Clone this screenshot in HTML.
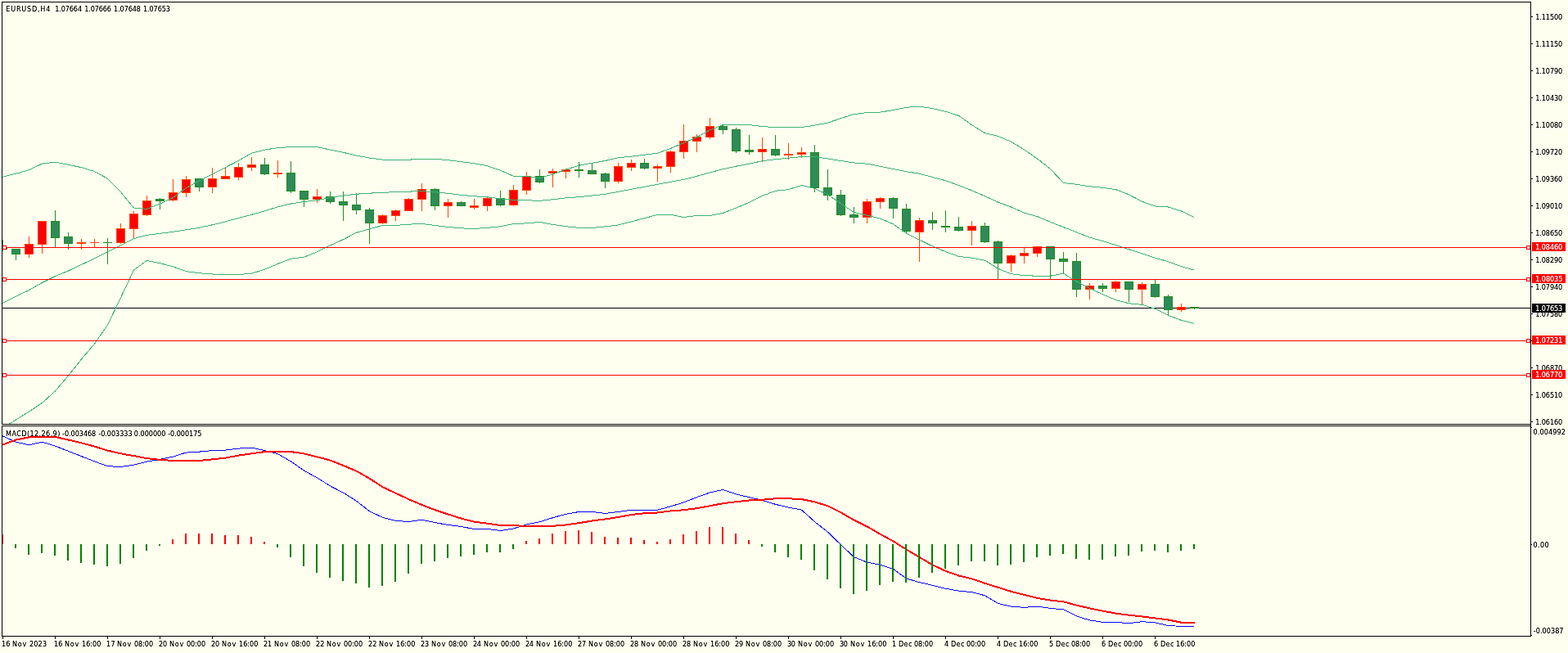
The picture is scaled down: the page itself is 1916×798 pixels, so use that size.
<!DOCTYPE html>
<html lang="en"><head><meta charset="utf-8"><title>EURUSD,H4</title>
<style>
html,body{margin:0;padding:0;background:#FFFFF0;overflow:hidden}
body{width:1916px;height:798px;position:relative}
svg{position:absolute;left:0;top:0;display:block}
text{font-family:"DejaVu Sans Condensed","Liberation Sans",sans-serif;font-size:9px;fill:#000}
.w{fill:#fff}
</style></head><body>
<svg width="1916" height="798" viewBox="0 0 1916 798">
<rect x="0" y="0" width="1916" height="798" fill="#FFFFF0"/>
<defs><filter id="dk" filterUnits="userSpaceOnUse" x="0" y="0" width="1916" height="798" color-interpolation-filters="sRGB"><feComponentTransfer><feFuncA type="linear" slope="1.25"/></feComponentTransfer></filter><clipPath id="cl"><rect x="3" y="3" width="1456" height="774"/></clipPath><clipPath id="cr"><rect x="3" y="521" width="1457" height="256"/></clipPath><clipPath id="cm"><rect x="3" y="3" width="1867" height="515"/></clipPath><clipPath id="ci"><rect x="3" y="521" width="1867" height="256"/></clipPath></defs>
<g shape-rendering="crispEdges">
<rect x="2" y="2" width="1869" height="1" fill="#000"/>
<rect x="2" y="2" width="1" height="517" fill="#000"/>
<rect x="2" y="518" width="1869" height="1" fill="#000"/>
<rect x="2" y="520" width="1869" height="1" fill="#000"/>
<rect x="2" y="520" width="1" height="258" fill="#000"/>
<rect x="2" y="777" width="1869" height="1" fill="#000"/>
<rect x="1870" y="2" width="1" height="776" fill="#000"/>
<rect x="1871" y="20" width="2" height="1" fill="#000"/>
<rect x="1871" y="53" width="2" height="1" fill="#000"/>
<rect x="1871" y="86" width="2" height="1" fill="#000"/>
<rect x="1871" y="119" width="2" height="1" fill="#000"/>
<rect x="1871" y="152" width="2" height="1" fill="#000"/>
<rect x="1871" y="185" width="2" height="1" fill="#000"/>
<rect x="1871" y="218" width="2" height="1" fill="#000"/>
<rect x="1871" y="251" width="2" height="1" fill="#000"/>
<rect x="1871" y="284" width="2" height="1" fill="#000"/>
<rect x="1871" y="317" width="2" height="1" fill="#000"/>
<rect x="1871" y="350" width="2" height="1" fill="#000"/>
<rect x="1871" y="383" width="2" height="1" fill="#000"/>
<rect x="1871" y="416" width="2" height="1" fill="#000"/>
<rect x="1871" y="449" width="2" height="1" fill="#000"/>
<rect x="1871" y="482" width="2" height="1" fill="#000"/>
<rect x="1871" y="515" width="2" height="1" fill="#000"/>
<rect x="1871" y="522" width="1" height="1" fill="#000"/>
<rect x="1871" y="665" width="1" height="1" fill="#000"/>
<rect x="1871" y="776" width="1" height="1" fill="#000"/>
<rect x="3" y="778" width="1" height="3" fill="#000"/>
<rect x="67" y="778" width="1" height="3" fill="#000"/>
<rect x="131" y="778" width="1" height="3" fill="#000"/>
<rect x="195" y="778" width="1" height="3" fill="#000"/>
<rect x="259" y="778" width="1" height="3" fill="#000"/>
<rect x="323" y="778" width="1" height="3" fill="#000"/>
<rect x="387" y="778" width="1" height="3" fill="#000"/>
<rect x="451" y="778" width="1" height="3" fill="#000"/>
<rect x="515" y="778" width="1" height="3" fill="#000"/>
<rect x="579" y="778" width="1" height="3" fill="#000"/>
<rect x="643" y="778" width="1" height="3" fill="#000"/>
<rect x="707" y="778" width="1" height="3" fill="#000"/>
<rect x="771" y="778" width="1" height="3" fill="#000"/>
<rect x="835" y="778" width="1" height="3" fill="#000"/>
<rect x="899" y="778" width="1" height="3" fill="#000"/>
<rect x="963" y="778" width="1" height="3" fill="#000"/>
<rect x="1027" y="778" width="1" height="3" fill="#000"/>
<rect x="1091" y="778" width="1" height="3" fill="#000"/>
<rect x="1155" y="778" width="1" height="3" fill="#000"/>
<rect x="1219" y="778" width="1" height="3" fill="#000"/>
<rect x="1283" y="778" width="1" height="3" fill="#000"/>
<rect x="1347" y="778" width="1" height="3" fill="#000"/>
<rect x="1411" y="778" width="1" height="3" fill="#000"/>
</g>
<g shape-rendering="crispEdges" clip-path="url(#cm)">
<rect x="3" y="376" width="1867" height="1" fill="#000"/>
<rect x="3" y="293" width="1" height="14" fill="#228B22"/>
<rect x="-2" y="303" width="11" height="2" fill="#228B22"/>
<rect x="19" y="304" width="1" height="14" fill="#228B22"/>
<rect x="14" y="304" width="11" height="7" fill="#228B22"/>
<rect x="15" y="305" width="9" height="5" fill="#2E8B57"/>
<rect x="35" y="289" width="1" height="26" fill="#FF4500"/>
<rect x="30" y="298" width="11" height="13" fill="#FF4500"/>
<rect x="31" y="299" width="9" height="11" fill="#FF0000"/>
<rect x="51" y="270" width="1" height="40" fill="#FF4500"/>
<rect x="46" y="270" width="11" height="29" fill="#FF4500"/>
<rect x="47" y="271" width="9" height="27" fill="#FF0000"/>
<rect x="67" y="257" width="1" height="45" fill="#228B22"/>
<rect x="62" y="270" width="11" height="21" fill="#228B22"/>
<rect x="63" y="271" width="9" height="19" fill="#2E8B57"/>
<rect x="83" y="284" width="1" height="21" fill="#228B22"/>
<rect x="78" y="289" width="11" height="9" fill="#228B22"/>
<rect x="79" y="290" width="9" height="7" fill="#2E8B57"/>
<rect x="99" y="292" width="1" height="13" fill="#FF4500"/>
<rect x="94" y="296" width="11" height="2" fill="#FF4500"/>
<rect x="115" y="292" width="1" height="10" fill="#FF4500"/>
<rect x="110" y="296" width="11" height="1" fill="#FF4500"/>
<rect x="131" y="291" width="1" height="32" fill="#228B22"/>
<rect x="126" y="296" width="11" height="1" fill="#228B22"/>
<rect x="147" y="273" width="1" height="25" fill="#FF4500"/>
<rect x="142" y="279" width="11" height="18" fill="#FF4500"/>
<rect x="143" y="280" width="9" height="16" fill="#FF0000"/>
<rect x="163" y="258" width="1" height="34" fill="#FF4500"/>
<rect x="158" y="261" width="11" height="19" fill="#FF4500"/>
<rect x="159" y="262" width="9" height="17" fill="#FF0000"/>
<rect x="179" y="239" width="1" height="25" fill="#FF4500"/>
<rect x="174" y="245" width="11" height="18" fill="#FF4500"/>
<rect x="175" y="246" width="9" height="16" fill="#FF0000"/>
<rect x="195" y="242" width="1" height="14" fill="#228B22"/>
<rect x="190" y="243" width="11" height="3" fill="#228B22"/>
<rect x="191" y="244" width="9" height="1" fill="#2E8B57"/>
<rect x="211" y="219" width="1" height="27" fill="#FF4500"/>
<rect x="206" y="235" width="11" height="10" fill="#FF4500"/>
<rect x="207" y="236" width="9" height="8" fill="#FF0000"/>
<rect x="227" y="215" width="1" height="26" fill="#FF4500"/>
<rect x="222" y="219" width="11" height="17" fill="#FF4500"/>
<rect x="223" y="220" width="9" height="15" fill="#FF0000"/>
<rect x="243" y="218" width="1" height="16" fill="#228B22"/>
<rect x="238" y="218" width="11" height="11" fill="#228B22"/>
<rect x="239" y="219" width="9" height="9" fill="#2E8B57"/>
<rect x="259" y="205" width="1" height="31" fill="#FF4500"/>
<rect x="254" y="218" width="11" height="11" fill="#FF4500"/>
<rect x="255" y="219" width="9" height="9" fill="#FF0000"/>
<rect x="275" y="204" width="1" height="15" fill="#FF4500"/>
<rect x="270" y="215" width="11" height="4" fill="#FF4500"/>
<rect x="271" y="216" width="9" height="2" fill="#FF0000"/>
<rect x="291" y="199" width="1" height="21" fill="#FF4500"/>
<rect x="286" y="204" width="11" height="13" fill="#FF4500"/>
<rect x="287" y="205" width="9" height="11" fill="#FF0000"/>
<rect x="307" y="192" width="1" height="17" fill="#FF4500"/>
<rect x="302" y="201" width="11" height="4" fill="#FF4500"/>
<rect x="303" y="202" width="9" height="2" fill="#FF0000"/>
<rect x="323" y="193" width="1" height="21" fill="#228B22"/>
<rect x="318" y="201" width="11" height="12" fill="#228B22"/>
<rect x="319" y="202" width="9" height="10" fill="#2E8B57"/>
<rect x="339" y="196" width="1" height="21" fill="#FF4500"/>
<rect x="334" y="211" width="11" height="2" fill="#FF4500"/>
<rect x="355" y="197" width="1" height="39" fill="#228B22"/>
<rect x="350" y="211" width="11" height="23" fill="#228B22"/>
<rect x="351" y="212" width="9" height="21" fill="#2E8B57"/>
<rect x="371" y="233" width="1" height="20" fill="#228B22"/>
<rect x="366" y="233" width="11" height="11" fill="#228B22"/>
<rect x="367" y="234" width="9" height="9" fill="#2E8B57"/>
<rect x="387" y="231" width="1" height="17" fill="#FF4500"/>
<rect x="382" y="240" width="11" height="4" fill="#FF4500"/>
<rect x="383" y="241" width="9" height="2" fill="#FF0000"/>
<rect x="403" y="234" width="1" height="15" fill="#228B22"/>
<rect x="398" y="240" width="11" height="7" fill="#228B22"/>
<rect x="399" y="241" width="9" height="5" fill="#2E8B57"/>
<rect x="419" y="234" width="1" height="36" fill="#228B22"/>
<rect x="414" y="246" width="11" height="5" fill="#228B22"/>
<rect x="415" y="247" width="9" height="3" fill="#2E8B57"/>
<rect x="435" y="236" width="1" height="26" fill="#228B22"/>
<rect x="430" y="250" width="11" height="7" fill="#228B22"/>
<rect x="431" y="251" width="9" height="5" fill="#2E8B57"/>
<rect x="451" y="254" width="1" height="44" fill="#228B22"/>
<rect x="446" y="256" width="11" height="17" fill="#228B22"/>
<rect x="447" y="257" width="9" height="15" fill="#2E8B57"/>
<rect x="467" y="262" width="1" height="12" fill="#FF4500"/>
<rect x="462" y="263" width="11" height="10" fill="#FF4500"/>
<rect x="463" y="264" width="9" height="8" fill="#FF0000"/>
<rect x="483" y="256" width="1" height="14" fill="#FF4500"/>
<rect x="478" y="257" width="11" height="7" fill="#FF4500"/>
<rect x="479" y="258" width="9" height="5" fill="#FF0000"/>
<rect x="499" y="242" width="1" height="16" fill="#FF4500"/>
<rect x="494" y="243" width="11" height="15" fill="#FF4500"/>
<rect x="495" y="244" width="9" height="13" fill="#FF0000"/>
<rect x="515" y="224" width="1" height="34" fill="#FF4500"/>
<rect x="510" y="231" width="11" height="13" fill="#FF4500"/>
<rect x="511" y="232" width="9" height="11" fill="#FF0000"/>
<rect x="531" y="230" width="1" height="27" fill="#228B22"/>
<rect x="526" y="231" width="11" height="21" fill="#228B22"/>
<rect x="527" y="232" width="9" height="19" fill="#2E8B57"/>
<rect x="547" y="243" width="1" height="23" fill="#FF4500"/>
<rect x="542" y="247" width="11" height="5" fill="#FF4500"/>
<rect x="543" y="248" width="9" height="3" fill="#FF0000"/>
<rect x="563" y="246" width="1" height="6" fill="#228B22"/>
<rect x="558" y="247" width="11" height="5" fill="#228B22"/>
<rect x="559" y="248" width="9" height="3" fill="#2E8B57"/>
<rect x="579" y="243" width="1" height="13" fill="#FF4500"/>
<rect x="574" y="251" width="11" height="3" fill="#FF4500"/>
<rect x="575" y="252" width="9" height="1" fill="#FF0000"/>
<rect x="595" y="241" width="1" height="17" fill="#FF4500"/>
<rect x="590" y="242" width="11" height="10" fill="#FF4500"/>
<rect x="591" y="243" width="9" height="8" fill="#FF0000"/>
<rect x="611" y="233" width="1" height="19" fill="#228B22"/>
<rect x="606" y="242" width="11" height="9" fill="#228B22"/>
<rect x="607" y="243" width="9" height="7" fill="#2E8B57"/>
<rect x="627" y="226" width="1" height="26" fill="#FF4500"/>
<rect x="622" y="232" width="11" height="19" fill="#FF4500"/>
<rect x="623" y="233" width="9" height="17" fill="#FF0000"/>
<rect x="643" y="210" width="1" height="28" fill="#FF4500"/>
<rect x="638" y="215" width="11" height="18" fill="#FF4500"/>
<rect x="639" y="216" width="9" height="16" fill="#FF0000"/>
<rect x="659" y="207" width="1" height="17" fill="#228B22"/>
<rect x="654" y="215" width="11" height="8" fill="#228B22"/>
<rect x="655" y="216" width="9" height="6" fill="#2E8B57"/>
<rect x="675" y="206" width="1" height="23" fill="#FF4500"/>
<rect x="670" y="209" width="11" height="3" fill="#FF4500"/>
<rect x="671" y="210" width="9" height="1" fill="#FF0000"/>
<rect x="691" y="206" width="1" height="12" fill="#FF4500"/>
<rect x="686" y="207" width="11" height="3" fill="#FF4500"/>
<rect x="687" y="208" width="9" height="1" fill="#FF0000"/>
<rect x="707" y="198" width="1" height="19" fill="#228B22"/>
<rect x="702" y="207" width="11" height="2" fill="#228B22"/>
<rect x="723" y="200" width="1" height="13" fill="#228B22"/>
<rect x="718" y="208" width="11" height="5" fill="#228B22"/>
<rect x="719" y="209" width="9" height="3" fill="#2E8B57"/>
<rect x="739" y="211" width="1" height="19" fill="#228B22"/>
<rect x="734" y="212" width="11" height="10" fill="#228B22"/>
<rect x="735" y="213" width="9" height="8" fill="#2E8B57"/>
<rect x="755" y="199" width="1" height="25" fill="#FF4500"/>
<rect x="750" y="203" width="11" height="19" fill="#FF4500"/>
<rect x="751" y="204" width="9" height="17" fill="#FF0000"/>
<rect x="771" y="195" width="1" height="14" fill="#FF4500"/>
<rect x="766" y="199" width="11" height="6" fill="#FF4500"/>
<rect x="767" y="200" width="9" height="4" fill="#FF0000"/>
<rect x="787" y="194" width="1" height="13" fill="#228B22"/>
<rect x="782" y="199" width="11" height="7" fill="#228B22"/>
<rect x="783" y="200" width="9" height="5" fill="#2E8B57"/>
<rect x="803" y="201" width="1" height="21" fill="#FF4500"/>
<rect x="798" y="203" width="11" height="3" fill="#FF4500"/>
<rect x="799" y="204" width="9" height="1" fill="#FF0000"/>
<rect x="819" y="184" width="1" height="27" fill="#FF4500"/>
<rect x="814" y="185" width="11" height="19" fill="#FF4500"/>
<rect x="815" y="186" width="9" height="17" fill="#FF0000"/>
<rect x="835" y="152" width="1" height="42" fill="#FF4500"/>
<rect x="830" y="172" width="11" height="14" fill="#FF4500"/>
<rect x="831" y="173" width="9" height="12" fill="#FF0000"/>
<rect x="851" y="164" width="1" height="22" fill="#FF4500"/>
<rect x="846" y="167" width="11" height="6" fill="#FF4500"/>
<rect x="847" y="168" width="9" height="4" fill="#FF0000"/>
<rect x="867" y="144" width="1" height="26" fill="#FF4500"/>
<rect x="862" y="154" width="11" height="14" fill="#FF4500"/>
<rect x="863" y="155" width="9" height="12" fill="#FF0000"/>
<rect x="883" y="153" width="1" height="11" fill="#228B22"/>
<rect x="878" y="154" width="11" height="5" fill="#228B22"/>
<rect x="879" y="155" width="9" height="3" fill="#2E8B57"/>
<rect x="899" y="156" width="1" height="31" fill="#228B22"/>
<rect x="894" y="158" width="11" height="27" fill="#228B22"/>
<rect x="895" y="159" width="9" height="25" fill="#2E8B57"/>
<rect x="915" y="165" width="1" height="24" fill="#228B22"/>
<rect x="910" y="183" width="11" height="3" fill="#228B22"/>
<rect x="911" y="184" width="9" height="1" fill="#2E8B57"/>
<rect x="931" y="168" width="1" height="30" fill="#FF4500"/>
<rect x="926" y="182" width="11" height="4" fill="#FF4500"/>
<rect x="927" y="183" width="9" height="2" fill="#FF0000"/>
<rect x="947" y="165" width="1" height="26" fill="#228B22"/>
<rect x="942" y="182" width="11" height="8" fill="#228B22"/>
<rect x="943" y="183" width="9" height="6" fill="#2E8B57"/>
<rect x="963" y="175" width="1" height="20" fill="#FF4500"/>
<rect x="958" y="188" width="11" height="2" fill="#FF4500"/>
<rect x="979" y="180" width="1" height="13" fill="#FF4500"/>
<rect x="974" y="186" width="11" height="3" fill="#FF4500"/>
<rect x="975" y="187" width="9" height="1" fill="#FF0000"/>
<rect x="995" y="177" width="1" height="58" fill="#228B22"/>
<rect x="990" y="186" width="11" height="44" fill="#228B22"/>
<rect x="991" y="187" width="9" height="42" fill="#2E8B57"/>
<rect x="1011" y="207" width="1" height="38" fill="#228B22"/>
<rect x="1006" y="229" width="11" height="10" fill="#228B22"/>
<rect x="1007" y="230" width="9" height="8" fill="#2E8B57"/>
<rect x="1027" y="232" width="1" height="32" fill="#228B22"/>
<rect x="1022" y="238" width="11" height="25" fill="#228B22"/>
<rect x="1023" y="239" width="9" height="23" fill="#2E8B57"/>
<rect x="1043" y="253" width="1" height="20" fill="#228B22"/>
<rect x="1038" y="262" width="11" height="4" fill="#228B22"/>
<rect x="1039" y="263" width="9" height="2" fill="#2E8B57"/>
<rect x="1059" y="243" width="1" height="30" fill="#FF4500"/>
<rect x="1054" y="246" width="11" height="20" fill="#FF4500"/>
<rect x="1055" y="247" width="9" height="18" fill="#FF0000"/>
<rect x="1075" y="241" width="1" height="14" fill="#FF4500"/>
<rect x="1070" y="242" width="11" height="5" fill="#FF4500"/>
<rect x="1071" y="243" width="9" height="3" fill="#FF0000"/>
<rect x="1091" y="241" width="1" height="26" fill="#228B22"/>
<rect x="1086" y="242" width="11" height="13" fill="#228B22"/>
<rect x="1087" y="243" width="9" height="11" fill="#2E8B57"/>
<rect x="1107" y="249" width="1" height="36" fill="#228B22"/>
<rect x="1102" y="255" width="11" height="28" fill="#228B22"/>
<rect x="1103" y="256" width="9" height="26" fill="#2E8B57"/>
<rect x="1123" y="266" width="1" height="54" fill="#FF4500"/>
<rect x="1118" y="269" width="11" height="15" fill="#FF4500"/>
<rect x="1119" y="270" width="9" height="13" fill="#FF0000"/>
<rect x="1139" y="259" width="1" height="22" fill="#228B22"/>
<rect x="1134" y="269" width="11" height="4" fill="#228B22"/>
<rect x="1135" y="270" width="9" height="2" fill="#2E8B57"/>
<rect x="1155" y="257" width="1" height="27" fill="#228B22"/>
<rect x="1150" y="276" width="11" height="2" fill="#228B22"/>
<rect x="1171" y="265" width="1" height="18" fill="#228B22"/>
<rect x="1166" y="277" width="11" height="5" fill="#228B22"/>
<rect x="1167" y="278" width="9" height="3" fill="#2E8B57"/>
<rect x="1187" y="270" width="1" height="30" fill="#FF4500"/>
<rect x="1182" y="276" width="11" height="6" fill="#FF4500"/>
<rect x="1183" y="277" width="9" height="4" fill="#FF0000"/>
<rect x="1203" y="272" width="1" height="25" fill="#228B22"/>
<rect x="1198" y="276" width="11" height="20" fill="#228B22"/>
<rect x="1199" y="277" width="9" height="18" fill="#2E8B57"/>
<rect x="1219" y="294" width="1" height="47" fill="#228B22"/>
<rect x="1214" y="295" width="11" height="27" fill="#228B22"/>
<rect x="1215" y="296" width="9" height="25" fill="#2E8B57"/>
<rect x="1235" y="311" width="1" height="21" fill="#FF4500"/>
<rect x="1230" y="312" width="11" height="10" fill="#FF4500"/>
<rect x="1231" y="313" width="9" height="8" fill="#FF0000"/>
<rect x="1251" y="303" width="1" height="19" fill="#FF4500"/>
<rect x="1246" y="309" width="11" height="4" fill="#FF4500"/>
<rect x="1247" y="310" width="9" height="2" fill="#FF0000"/>
<rect x="1267" y="301" width="1" height="13" fill="#FF4500"/>
<rect x="1262" y="301" width="11" height="9" fill="#FF4500"/>
<rect x="1263" y="302" width="9" height="7" fill="#FF0000"/>
<rect x="1283" y="301" width="1" height="40" fill="#228B22"/>
<rect x="1278" y="301" width="11" height="16" fill="#228B22"/>
<rect x="1279" y="302" width="9" height="14" fill="#2E8B57"/>
<rect x="1299" y="308" width="1" height="26" fill="#228B22"/>
<rect x="1294" y="316" width="11" height="4" fill="#228B22"/>
<rect x="1295" y="317" width="9" height="2" fill="#2E8B57"/>
<rect x="1315" y="309" width="1" height="54" fill="#228B22"/>
<rect x="1310" y="319" width="11" height="35" fill="#228B22"/>
<rect x="1311" y="320" width="9" height="33" fill="#2E8B57"/>
<rect x="1331" y="346" width="1" height="20" fill="#FF4500"/>
<rect x="1326" y="349" width="11" height="5" fill="#FF4500"/>
<rect x="1327" y="350" width="9" height="3" fill="#FF0000"/>
<rect x="1347" y="346" width="1" height="11" fill="#228B22"/>
<rect x="1342" y="349" width="11" height="4" fill="#228B22"/>
<rect x="1343" y="350" width="9" height="2" fill="#2E8B57"/>
<rect x="1363" y="343" width="1" height="14" fill="#FF4500"/>
<rect x="1358" y="344" width="11" height="9" fill="#FF4500"/>
<rect x="1359" y="345" width="9" height="7" fill="#FF0000"/>
<rect x="1379" y="344" width="1" height="25" fill="#228B22"/>
<rect x="1374" y="344" width="11" height="10" fill="#228B22"/>
<rect x="1375" y="345" width="9" height="8" fill="#2E8B57"/>
<rect x="1395" y="345" width="1" height="27" fill="#FF4500"/>
<rect x="1390" y="347" width="11" height="7" fill="#FF4500"/>
<rect x="1391" y="348" width="9" height="5" fill="#FF0000"/>
<rect x="1411" y="342" width="1" height="22" fill="#228B22"/>
<rect x="1406" y="347" width="11" height="16" fill="#228B22"/>
<rect x="1407" y="348" width="9" height="14" fill="#2E8B57"/>
<rect x="1427" y="360" width="1" height="25" fill="#228B22"/>
<rect x="1422" y="362" width="11" height="17" fill="#228B22"/>
<rect x="1423" y="363" width="9" height="15" fill="#2E8B57"/>
<rect x="1443" y="371" width="1" height="10" fill="#FF4500"/>
<rect x="1438" y="375" width="11" height="4" fill="#FF4500"/>
<rect x="1439" y="376" width="9" height="2" fill="#FF0000"/>
<rect x="1459" y="375" width="1" height="3" fill="#228B22"/>
<rect x="1454" y="375" width="11" height="2" fill="#228B22"/>
<g clip-path="url(#cl)">
<polyline fill="none" stroke="#3CB371" stroke-width="1" stroke-linecap="square" stroke-linejoin="round" points="3.5,216.2 19.5,212.2 35.5,207.6 51.5,200.1 67.5,198.1 83.5,201.4 99.5,204.6 115.5,209.6 131.5,218.2 147.5,234.7 163.5,254.0 179.5,255.3 195.5,249.0 211.5,241.5 227.5,229.7 243.5,220.7 259.5,212.7 275.5,204.6 291.5,196.4 307.5,187.1 323.5,183.1 339.5,180.6 355.5,179.6 371.5,179.6 387.5,179.6 403.5,183.1 419.5,186.3 435.5,190.1 451.5,193.1 467.5,195.1 483.5,195.2 499.5,195.2 515.5,194.2 531.5,194.2 547.5,195.7 563.5,197.7 579.5,199.7 595.5,202.7 611.5,208.2 627.5,215.3 643.5,215.3 659.5,217.8 675.5,212.8 691.5,207.2 707.5,202.2 723.5,199.2 739.5,196.5 755.5,192.7 771.5,191.2 787.5,189.2 803.5,187.2 819.5,181.4 835.5,174.7 851.5,167.6 867.5,158.9 883.5,152.6 899.5,152.6 915.5,152.6 931.5,154.6 947.5,155.6 963.5,155.6 979.5,155.6 995.5,153.1 1011.5,150.1 1027.5,144.6 1043.5,139.6 1059.5,137.6 1075.5,137.1 1091.5,134.6 1107.5,131.3 1123.5,130.1 1139.5,132.6 1155.5,136.3 1171.5,141.3 1187.5,152.6 1203.5,162.6 1219.5,166.4 1235.5,173.2 1251.5,182.7 1267.5,194.0 1283.5,206.5 1299.5,223.5 1315.5,225.3 1331.5,227.8 1347.5,229.3 1363.5,231.6 1379.5,237.8 1395.5,246.3 1411.5,252.0 1427.5,253.0 1443.5,258.0 1459.5,265.6"/>
<polyline fill="none" stroke="#3CB371" stroke-width="1" stroke-linecap="square" stroke-linejoin="round" points="3.5,370.1 19.5,362.1 35.5,354.6 51.5,345.5 67.5,337.5 83.5,331.0 99.5,323.4 115.5,315.9 131.5,307.9 147.5,299.9 163.5,291.6 179.5,287.3 195.5,285.3 211.5,283.3 227.5,280.8 243.5,278.3 259.5,274.8 275.5,270.8 291.5,266.5 307.5,262.3 323.5,257.8 339.5,252.8 355.5,249.0 371.5,246.5 387.5,244.7 403.5,241.5 419.5,239.0 435.5,237.2 451.5,236.2 467.5,235.2 483.5,234.8 499.5,234.1 515.5,233.6 531.5,234.8 547.5,236.3 563.5,238.3 579.5,239.8 595.5,240.8 611.5,242.8 627.5,244.3 643.5,244.8 659.5,245.3 675.5,243.8 691.5,241.8 707.5,240.7 723.5,239.1 739.5,237.3 755.5,234.3 771.5,231.3 787.5,228.3 803.5,225.3 819.5,222.3 835.5,219.3 851.5,215.3 867.5,210.8 883.5,206.7 899.5,203.2 915.5,200.2 931.5,196.7 947.5,194.7 963.5,193.2 979.5,191.5 995.5,191.5 1011.5,194.0 1027.5,196.5 1043.5,199.0 1059.5,200.2 1075.5,203.2 1091.5,206.5 1107.5,209.7 1123.5,212.3 1139.5,216.5 1155.5,220.8 1171.5,226.5 1187.5,232.8 1203.5,239.8 1219.5,247.0 1235.5,253.0 1251.5,260.1 1267.5,264.6 1283.5,271.3 1299.5,277.6 1315.5,283.9 1331.5,290.1 1347.5,294.6 1363.5,299.6 1379.5,304.7 1395.5,309.7 1411.5,315.2 1427.5,319.7 1443.5,325.7 1459.5,330.2"/>
<polyline fill="none" stroke="#3CB371" stroke-width="1" stroke-linecap="square" stroke-linejoin="round" points="3.5,523.0 19.5,513.0 35.5,502.9 51.5,492.4 67.5,477.9 83.5,459.1 99.5,439.0 115.5,420.2 131.5,397.2 147.5,363.8 163.5,329.9 179.5,318.4 195.5,321.7 211.5,325.9 227.5,331.7 243.5,333.7 259.5,335.0 275.5,335.5 291.5,335.5 307.5,334.2 323.5,329.2 339.5,322.4 355.5,316.2 371.5,314.2 387.5,307.9 403.5,299.9 419.5,292.6 435.5,284.3 451.5,279.8 467.5,275.3 483.5,275.4 499.5,274.2 515.5,273.4 531.5,275.4 547.5,277.4 563.5,278.9 579.5,279.4 595.5,278.4 611.5,276.7 627.5,273.4 643.5,272.9 659.5,271.4 675.5,274.4 691.5,276.7 707.5,278.4 723.5,278.4 739.5,276.9 755.5,274.9 771.5,270.9 787.5,266.6 803.5,262.4 819.5,262.4 835.5,265.4 851.5,263.4 867.5,263.4 883.5,260.4 899.5,254.1 915.5,247.3 931.5,239.3 947.5,233.3 963.5,231.6 979.5,226.5 995.5,230.3 1011.5,237.8 1027.5,248.8 1043.5,259.5 1059.5,263.1 1075.5,267.1 1091.5,273.8 1107.5,285.1 1123.5,293.1 1139.5,300.9 1155.5,307.7 1171.5,313.4 1187.5,315.2 1203.5,318.2 1219.5,328.2 1235.5,334.7 1251.5,336.7 1267.5,337.2 1283.5,337.2 1299.5,334.2 1315.5,344.0 1331.5,352.3 1347.5,359.8 1363.5,366.6 1379.5,370.8 1395.5,372.3 1411.5,377.3 1427.5,385.4 1443.5,391.4 1459.5,395.4"/>
</g>
<rect x="3" y="302" width="1867" height="1" fill="#FF0000"/>
<rect x="3" y="300" width="5" height="5" fill="#FF0000"/>
<rect x="4" y="301" width="3" height="3" fill="#fff"/>
<rect x="1865" y="300" width="5" height="5" fill="#FF0000"/>
<rect x="1866" y="301" width="3" height="3" fill="#fff"/>
<rect x="3" y="341" width="1867" height="1" fill="#FF0000"/>
<rect x="3" y="339" width="5" height="5" fill="#FF0000"/>
<rect x="4" y="340" width="3" height="3" fill="#fff"/>
<rect x="1865" y="339" width="5" height="5" fill="#FF0000"/>
<rect x="1866" y="340" width="3" height="3" fill="#fff"/>
<rect x="3" y="416" width="1867" height="1" fill="#FF0000"/>
<rect x="3" y="414" width="5" height="5" fill="#FF0000"/>
<rect x="4" y="415" width="3" height="3" fill="#fff"/>
<rect x="1865" y="414" width="5" height="5" fill="#FF0000"/>
<rect x="1866" y="415" width="3" height="3" fill="#fff"/>
<rect x="3" y="458" width="1867" height="1" fill="#FF0000"/>
<rect x="3" y="456" width="5" height="5" fill="#FF0000"/>
<rect x="4" y="457" width="3" height="3" fill="#fff"/>
<rect x="1865" y="456" width="5" height="5" fill="#FF0000"/>
<rect x="1866" y="457" width="3" height="3" fill="#fff"/>
</g>
<g filter="url(#dk)">
<text y="14" xml:space="preserve"><tspan x="7.31" style="letter-spacing:0.782px">EURUSD,H4</tspan>  <tspan x="67.31" style="letter-spacing:-0.123px">1.07664</tspan> <tspan x="103.21" style="letter-spacing:-0.113px">1.07666</tspan> <tspan x="139.11" style="letter-spacing:-0.106px">1.07648</tspan> <tspan x="175.01" style="letter-spacing:-0.091px">1.07653</tspan></text>
<text y="533" xml:space="preserve"><tspan x="7.01" style="letter-spacing:0.405px">MACD(12,26,9)</tspan> <tspan x="76.1" style="letter-spacing:-0.05px">-0.003468</tspan> <tspan x="120.3" style="letter-spacing:-0.039px">-0.003333</tspan> <tspan x="163.87" style="letter-spacing:-0.023px">0.000000</tspan> <tspan x="205.2" style="letter-spacing:-0.031px">-0.000175</tspan></text>
<text y="24" xml:space="preserve"><tspan x="1876.31" style="letter-spacing:-0.109px">1.11500</tspan></text>
<text y="57" xml:space="preserve"><tspan x="1876.31" style="letter-spacing:-0.109px">1.11150</tspan></text>
<text y="90" xml:space="preserve"><tspan x="1876.31" style="letter-spacing:-0.109px">1.10790</tspan></text>
<text y="123" xml:space="preserve"><tspan x="1876.31" style="letter-spacing:-0.109px">1.10430</tspan></text>
<text y="156" xml:space="preserve"><tspan x="1876.31" style="letter-spacing:-0.109px">1.10080</tspan></text>
<text y="189" xml:space="preserve"><tspan x="1876.31" style="letter-spacing:-0.109px">1.09720</tspan></text>
<text y="222" xml:space="preserve"><tspan x="1876.31" style="letter-spacing:-0.109px">1.09360</tspan></text>
<text y="255" xml:space="preserve"><tspan x="1876.31" style="letter-spacing:-0.109px">1.09010</tspan></text>
<text y="288" xml:space="preserve"><tspan x="1876.31" style="letter-spacing:-0.109px">1.08650</tspan></text>
<text y="321" xml:space="preserve"><tspan x="1876.31" style="letter-spacing:-0.109px">1.08290</tspan></text>
<text y="354" xml:space="preserve"><tspan x="1876.31" style="letter-spacing:-0.109px">1.07940</tspan></text>
<text y="387" xml:space="preserve"><tspan x="1876.31" style="letter-spacing:-0.109px">1.07580</tspan></text>
<text y="453" xml:space="preserve"><tspan x="1876.31" style="letter-spacing:-0.109px">1.06870</tspan></text>
<text y="486" xml:space="preserve"><tspan x="1876.31" style="letter-spacing:-0.109px">1.06510</tspan></text>
<text y="519" xml:space="preserve"><tspan x="1876.31" style="letter-spacing:-0.109px">1.06160</tspan></text>
<text y="531" xml:space="preserve"><tspan x="1873.57" style="letter-spacing:0.087px">0.004992</tspan></text>
<text y="669" xml:space="preserve"><tspan x="1873.57" style="letter-spacing:0.381px">0.00</tspan></text>
<text y="774" xml:space="preserve"><tspan x="1873.8" style="letter-spacing:0.041px">-0.00387</tspan></text>
<text y="790" xml:space="preserve"><tspan x="2.01" style="letter-spacing:0.092px">16</tspan> <tspan x="15.01" style="letter-spacing:0.765px">Nov</tspan> <tspan x="35.91" style="letter-spacing:0.178px">2023</tspan></text>
<text y="790" xml:space="preserve"><tspan x="66.01" style="letter-spacing:0.092px">16</tspan> <tspan x="79.01" style="letter-spacing:0.765px">Nov</tspan> <tspan x="100.01" style="letter-spacing:0.022px">16:00</tspan></text>
<text y="790" xml:space="preserve"><tspan x="130.01" style="letter-spacing:0.272px">17</tspan> <tspan x="143.01" style="letter-spacing:0.765px">Nov</tspan> <tspan x="163.97" style="letter-spacing:-0.067px">08:00</tspan></text>
<text y="790" xml:space="preserve"><tspan x="193.91" style="letter-spacing:-0.176px">20</tspan> <tspan x="207.01" style="letter-spacing:0.765px">Nov</tspan> <tspan x="227.97" style="letter-spacing:-0.067px">00:00</tspan></text>
<text y="790" xml:space="preserve"><tspan x="257.91" style="letter-spacing:-0.176px">20</tspan> <tspan x="271.01" style="letter-spacing:0.765px">Nov</tspan> <tspan x="292.01" style="letter-spacing:0.022px">16:00</tspan></text>
<text y="790" xml:space="preserve"><tspan x="321.91" style="letter-spacing:0.035px">21</tspan> <tspan x="335.01" style="letter-spacing:0.765px">Nov</tspan> <tspan x="355.97" style="letter-spacing:-0.067px">08:00</tspan></text>
<text y="790" xml:space="preserve"><tspan x="385.91" style="letter-spacing:0.097px">22</tspan> <tspan x="399.01" style="letter-spacing:0.765px">Nov</tspan> <tspan x="419.97" style="letter-spacing:-0.067px">00:00</tspan></text>
<text y="790" xml:space="preserve"><tspan x="449.91" style="letter-spacing:0.097px">22</tspan> <tspan x="463.01" style="letter-spacing:0.765px">Nov</tspan> <tspan x="484.01" style="letter-spacing:0.022px">16:00</tspan></text>
<text y="790" xml:space="preserve"><tspan x="513.91" style="letter-spacing:-0.066px">23</tspan> <tspan x="527.01" style="letter-spacing:0.765px">Nov</tspan> <tspan x="547.97" style="letter-spacing:-0.067px">08:00</tspan></text>
<text y="790" xml:space="preserve"><tspan x="577.91" style="letter-spacing:-0.259px">24</tspan> <tspan x="591.01" style="letter-spacing:0.765px">Nov</tspan> <tspan x="611.97" style="letter-spacing:-0.067px">00:00</tspan></text>
<text y="790" xml:space="preserve"><tspan x="641.91" style="letter-spacing:-0.259px">24</tspan> <tspan x="655.01" style="letter-spacing:0.765px">Nov</tspan> <tspan x="676.01" style="letter-spacing:0.022px">16:00</tspan></text>
<text y="790" xml:space="preserve"><tspan x="705.91" style="letter-spacing:-0.022px">27</tspan> <tspan x="719.01" style="letter-spacing:0.765px">Nov</tspan> <tspan x="739.97" style="letter-spacing:-0.067px">08:00</tspan></text>
<text y="790" xml:space="preserve"><tspan x="769.91" style="letter-spacing:-0.158px">28</tspan> <tspan x="783.01" style="letter-spacing:0.765px">Nov</tspan> <tspan x="803.97" style="letter-spacing:-0.067px">00:00</tspan></text>
<text y="790" xml:space="preserve"><tspan x="833.91" style="letter-spacing:-0.158px">28</tspan> <tspan x="847.01" style="letter-spacing:0.765px">Nov</tspan> <tspan x="868.01" style="letter-spacing:0.022px">16:00</tspan></text>
<text y="790" xml:space="preserve"><tspan x="897.91" style="letter-spacing:-0.145px">29</tspan> <tspan x="911.01" style="letter-spacing:0.765px">Nov</tspan> <tspan x="931.97" style="letter-spacing:-0.067px">08:00</tspan></text>
<text y="790" xml:space="preserve"><tspan x="961.88" style="letter-spacing:-0.154px">30</tspan> <tspan x="975.01" style="letter-spacing:0.765px">Nov</tspan> <tspan x="995.97" style="letter-spacing:-0.067px">00:00</tspan></text>
<text y="790" xml:space="preserve"><tspan x="1025.88" style="letter-spacing:-0.154px">30</tspan> <tspan x="1039.01" style="letter-spacing:0.765px">Nov</tspan> <tspan x="1060.01" style="letter-spacing:0.022px">16:00</tspan></text>
<text y="790" xml:space="preserve"><tspan x="1090.01">1</tspan> <tspan x="1098.01" style="letter-spacing:0.358px">Dec</tspan> <tspan x="1116.97" style="letter-spacing:-0.067px">08:00</tspan></text>
<text y="790" xml:space="preserve"><tspan x="1153.9">4</tspan> <tspan x="1162.01" style="letter-spacing:0.358px">Dec</tspan> <tspan x="1180.97" style="letter-spacing:-0.067px">00:00</tspan></text>
<text y="790" xml:space="preserve"><tspan x="1217.9">4</tspan> <tspan x="1226.01" style="letter-spacing:0.358px">Dec</tspan> <tspan x="1245.01" style="letter-spacing:0.022px">16:00</tspan></text>
<text y="790" xml:space="preserve"><tspan x="1281.98">5</tspan> <tspan x="1290.01" style="letter-spacing:0.358px">Dec</tspan> <tspan x="1308.97" style="letter-spacing:-0.067px">08:00</tspan></text>
<text y="790" xml:space="preserve"><tspan x="1345.94">6</tspan> <tspan x="1354.01" style="letter-spacing:0.358px">Dec</tspan> <tspan x="1372.97" style="letter-spacing:-0.067px">00:00</tspan></text>
<text y="790" xml:space="preserve"><tspan x="1409.94">6</tspan> <tspan x="1418.01" style="letter-spacing:0.358px">Dec</tspan> <tspan x="1437.01" style="letter-spacing:0.022px">16:00</tspan></text>
</g>
<g shape-rendering="crispEdges" clip-path="url(#ci)">
<g clip-path="url(#cl)"><polyline fill="none" stroke="#0000FF" stroke-width="1" stroke-linecap="square" stroke-linejoin="round" points="3.5,533.0 19.5,540.1 35.5,543.8 51.5,540.1 67.5,545.1 83.5,551.3 99.5,557.6 115.5,563.9 131.5,569.6 147.5,570.6 163.5,568.1 179.5,564.1 195.5,561.4 211.5,558.1 227.5,553.1 243.5,552.1 259.5,550.6 275.5,550.1 291.5,548.1 307.5,547.1 323.5,550.6 339.5,554.6 355.5,563.9 371.5,575.1 387.5,583.9 403.5,593.9 419.5,602.2 435.5,612.2 451.5,624.8 467.5,632.3 483.5,636.5 499.5,637.5 515.5,635.2 531.5,638.5 547.5,641.5 563.5,643.5 579.5,646.5 595.5,646.5 611.5,648.5 627.5,646.0 643.5,640.8 659.5,637.7 675.5,632.7 691.5,628.2 707.5,625.5 723.5,625.5 739.5,627.5 755.5,625.5 771.5,623.2 787.5,623.2 803.5,623.2 819.5,618.9 835.5,613.9 851.5,607.7 867.5,601.9 883.5,598.4 899.5,603.9 915.5,607.7 931.5,611.4 947.5,616.3 963.5,620.1 979.5,623.1 995.5,637.6 1011.5,650.2 1027.5,665.7 1043.5,680.7 1059.5,687.2 1075.5,690.3 1091.5,695.3 1107.5,707.0 1123.5,711.6 1139.5,715.3 1155.5,719.3 1171.5,722.1 1187.5,723.6 1203.5,727.8 1219.5,737.4 1235.5,741.1 1251.5,742.4 1267.5,741.1 1283.5,743.4 1299.5,744.9 1315.5,752.9 1331.5,757.9 1347.5,760.4 1363.5,760.4 1379.5,761.7 1395.5,759.7 1411.5,760.9 1427.5,764.5 1443.5,765.4 1459.5,765.4"/></g>
<g clip-path="url(#cr)"><polyline fill="none" stroke="#FF0000" stroke-width="2" stroke-linecap="square" stroke-linejoin="round" points="3.5,543.3 19.5,537.5 35.5,534.3 51.5,533.9 67.5,533.9 83.5,537.5 99.5,541.3 115.5,545.6 131.5,550.6 147.5,554.3 163.5,557.1 179.5,560.1 195.5,561.9 211.5,562.9 227.5,562.9 243.5,562.9 259.5,561.4 275.5,559.6 291.5,556.6 307.5,554.3 323.5,552.1 339.5,551.8 355.5,552.1 371.5,554.3 387.5,558.3 403.5,562.6 419.5,568.9 435.5,575.6 451.5,584.7 467.5,595.2 483.5,602.7 499.5,610.2 515.5,616.9 531.5,623.2 547.5,628.5 563.5,633.5 579.5,637.7 595.5,639.7 611.5,642.0 627.5,642.3 643.5,642.8 659.5,642.8 675.5,642.8 691.5,641.5 707.5,639.2 723.5,636.5 739.5,634.5 755.5,632.0 771.5,629.0 787.5,627.2 803.5,626.5 819.5,624.5 835.5,623.2 851.5,621.2 867.5,618.2 883.5,615.2 899.5,613.2 915.5,611.4 931.5,610.7 947.5,609.3 963.5,609.3 979.5,610.1 995.5,613.3 1011.5,618.3 1027.5,626.3 1043.5,635.6 1059.5,643.4 1075.5,652.7 1091.5,661.4 1107.5,671.5 1123.5,681.0 1139.5,690.3 1155.5,697.8 1171.5,703.5 1187.5,707.3 1203.5,712.8 1219.5,717.8 1235.5,722.8 1251.5,726.8 1267.5,730.9 1283.5,733.6 1299.5,735.4 1315.5,739.6 1331.5,743.4 1347.5,746.6 1363.5,749.6 1379.5,751.7 1395.5,753.4 1411.5,755.4 1427.5,757.5 1443.5,760.7 1459.5,760.9"/></g>
</g>
<g shape-rendering="crispEdges" clip-path="url(#ci)">
<rect x="2" y="653" width="2" height="12" fill="#FF0000"/>
<rect x="18" y="665" width="2" height="5" fill="#008000"/>
<rect x="34" y="665" width="2" height="13" fill="#008000"/>
<rect x="50" y="665" width="2" height="11" fill="#008000"/>
<rect x="66" y="665" width="2" height="14" fill="#008000"/>
<rect x="82" y="665" width="2" height="20" fill="#008000"/>
<rect x="98" y="665" width="2" height="23" fill="#008000"/>
<rect x="114" y="665" width="2" height="25" fill="#008000"/>
<rect x="130" y="665" width="2" height="27" fill="#008000"/>
<rect x="146" y="665" width="2" height="24" fill="#008000"/>
<rect x="162" y="665" width="2" height="17" fill="#008000"/>
<rect x="178" y="665" width="2" height="8" fill="#008000"/>
<rect x="194" y="665" width="2" height="2" fill="#008000"/>
<rect x="210" y="659" width="2" height="6" fill="#FF0000"/>
<rect x="226" y="652" width="2" height="13" fill="#FF0000"/>
<rect x="242" y="652" width="2" height="13" fill="#FF0000"/>
<rect x="258" y="652" width="2" height="13" fill="#FF0000"/>
<rect x="274" y="654" width="2" height="11" fill="#FF0000"/>
<rect x="290" y="654" width="2" height="11" fill="#FF0000"/>
<rect x="306" y="656" width="2" height="9" fill="#FF0000"/>
<rect x="322" y="662" width="2" height="3" fill="#FF0000"/>
<rect x="338" y="665" width="2" height="4" fill="#008000"/>
<rect x="354" y="665" width="2" height="16" fill="#008000"/>
<rect x="370" y="665" width="2" height="27" fill="#008000"/>
<rect x="386" y="665" width="2" height="35" fill="#008000"/>
<rect x="402" y="665" width="2" height="41" fill="#008000"/>
<rect x="418" y="665" width="2" height="45" fill="#008000"/>
<rect x="434" y="665" width="2" height="48" fill="#008000"/>
<rect x="450" y="665" width="2" height="53" fill="#008000"/>
<rect x="466" y="665" width="2" height="51" fill="#008000"/>
<rect x="482" y="665" width="2" height="46" fill="#008000"/>
<rect x="498" y="665" width="2" height="36" fill="#008000"/>
<rect x="514" y="665" width="2" height="24" fill="#008000"/>
<rect x="530" y="665" width="2" height="21" fill="#008000"/>
<rect x="546" y="665" width="2" height="17" fill="#008000"/>
<rect x="562" y="665" width="2" height="15" fill="#008000"/>
<rect x="578" y="665" width="2" height="13" fill="#008000"/>
<rect x="594" y="665" width="2" height="10" fill="#008000"/>
<rect x="610" y="665" width="2" height="10" fill="#008000"/>
<rect x="626" y="665" width="2" height="6" fill="#008000"/>
<rect x="642" y="661" width="2" height="4" fill="#FF0000"/>
<rect x="658" y="658" width="2" height="7" fill="#FF0000"/>
<rect x="674" y="652" width="2" height="13" fill="#FF0000"/>
<rect x="690" y="649" width="2" height="16" fill="#FF0000"/>
<rect x="706" y="648" width="2" height="17" fill="#FF0000"/>
<rect x="722" y="650" width="2" height="15" fill="#FF0000"/>
<rect x="738" y="656" width="2" height="9" fill="#FF0000"/>
<rect x="754" y="657" width="2" height="8" fill="#FF0000"/>
<rect x="770" y="657" width="2" height="8" fill="#FF0000"/>
<rect x="786" y="660" width="2" height="5" fill="#FF0000"/>
<rect x="802" y="662" width="2" height="3" fill="#FF0000"/>
<rect x="818" y="659" width="2" height="6" fill="#FF0000"/>
<rect x="834" y="653" width="2" height="12" fill="#FF0000"/>
<rect x="850" y="649" width="2" height="16" fill="#FF0000"/>
<rect x="866" y="644" width="2" height="21" fill="#FF0000"/>
<rect x="882" y="644" width="2" height="21" fill="#FF0000"/>
<rect x="898" y="652" width="2" height="13" fill="#FF0000"/>
<rect x="914" y="660" width="2" height="5" fill="#FF0000"/>
<rect x="930" y="665" width="2" height="3" fill="#008000"/>
<rect x="946" y="665" width="2" height="10" fill="#008000"/>
<rect x="962" y="665" width="2" height="16" fill="#008000"/>
<rect x="978" y="665" width="2" height="19" fill="#008000"/>
<rect x="994" y="665" width="2" height="32" fill="#008000"/>
<rect x="1010" y="665" width="2" height="43" fill="#008000"/>
<rect x="1026" y="665" width="2" height="54" fill="#008000"/>
<rect x="1042" y="665" width="2" height="61" fill="#008000"/>
<rect x="1058" y="665" width="2" height="57" fill="#008000"/>
<rect x="1074" y="665" width="2" height="50" fill="#008000"/>
<rect x="1090" y="665" width="2" height="46" fill="#008000"/>
<rect x="1106" y="665" width="2" height="47" fill="#008000"/>
<rect x="1122" y="665" width="2" height="41" fill="#008000"/>
<rect x="1138" y="665" width="2" height="35" fill="#008000"/>
<rect x="1154" y="665" width="2" height="30" fill="#008000"/>
<rect x="1170" y="665" width="2" height="26" fill="#008000"/>
<rect x="1186" y="665" width="2" height="21" fill="#008000"/>
<rect x="1202" y="665" width="2" height="21" fill="#008000"/>
<rect x="1218" y="665" width="2" height="26" fill="#008000"/>
<rect x="1234" y="665" width="2" height="25" fill="#008000"/>
<rect x="1250" y="665" width="2" height="22" fill="#008000"/>
<rect x="1266" y="665" width="2" height="16" fill="#008000"/>
<rect x="1282" y="665" width="2" height="14" fill="#008000"/>
<rect x="1298" y="665" width="2" height="12" fill="#008000"/>
<rect x="1314" y="665" width="2" height="18" fill="#008000"/>
<rect x="1330" y="665" width="2" height="19" fill="#008000"/>
<rect x="1346" y="665" width="2" height="19" fill="#008000"/>
<rect x="1362" y="665" width="2" height="15" fill="#008000"/>
<rect x="1378" y="665" width="2" height="14" fill="#008000"/>
<rect x="1394" y="665" width="2" height="9" fill="#008000"/>
<rect x="1410" y="665" width="2" height="8" fill="#008000"/>
<rect x="1426" y="665" width="2" height="10" fill="#008000"/>
<rect x="1442" y="665" width="2" height="8" fill="#008000"/>
<rect x="1458" y="665" width="2" height="6" fill="#008000"/>
</g>
<g shape-rendering="crispEdges">
<rect x="1872" y="296" width="41" height="11" fill="#FF0000"/>
<rect x="1872" y="335" width="41" height="11" fill="#FF0000"/>
<rect x="1872" y="371" width="41" height="11" fill="#000"/>
<rect x="1872" y="410" width="41" height="11" fill="#FF0000"/>
<rect x="1872" y="452" width="41" height="11" fill="#FF0000"/>
</g><g>
</g><g filter="url(#dk)">
<text class="w" y="305" xml:space="preserve"><tspan x="1876.31" style="letter-spacing:-0.109px">1.08460</tspan></text>
<text class="w" y="344" xml:space="preserve"><tspan x="1876.31" style="letter-spacing:-0.08px">1.08035</tspan></text>
<text class="w" y="380" xml:space="preserve"><tspan x="1876.31" style="letter-spacing:-0.091px">1.07653</tspan></text>
<text class="w" y="419" xml:space="preserve"><tspan x="1876.31" style="letter-spacing:-0.074px">1.07231</tspan></text>
<text class="w" y="461" xml:space="preserve"><tspan x="1876.31" style="letter-spacing:-0.109px">1.06770</tspan></text>
</g>
</svg></body></html>
